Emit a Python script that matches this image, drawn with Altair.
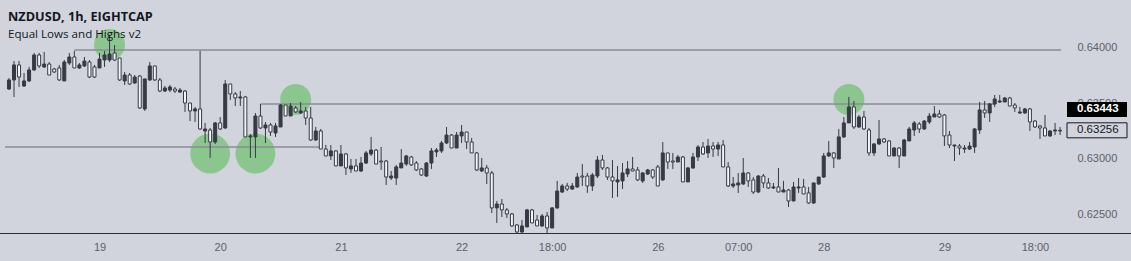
import altair as alt
import pandas as pd

# Hourly NZDUSD candles, prices in units of 1e-5 (e.g. 63625 -> 0.63625)
opens = [63625,63706,63840,63652,63697,63795,63929,63822,63848,63804,63813,63697,63857,63911,63813,63831,63866,63822,63813,63884,
         63884,63947,63902,63697,63750,63679,63741,63447,63706,63831,63706,63607,63616,63625,63598,63607,63500,63429,63447,63250,
         63259,63152,63322,63277,63670,63581,63545,63554,63197,63197,63384,63277,63304,63232,63286,63482,63384,63456,63411,63429,
         63366,63170,63250,63089,63027,63072,62938,63045,62911,62938,62893,62964,63045,63080,62982,62982,62830,62830,62920,62955,
         63018,62964,62911,62848,62964,63063,63072,63143,63214,63098,63206,63241,63152,63054,62893,62920,62875,62563,62598,62545,
         62509,62411,62348,62393,62545,62455,62402,62491,62384,62563,62705,62759,62732,62750,62848,62848,62759,62848,62991,62920,
         62839,62795,62804,62866,62911,62902,62804,62866,62902,62929,62813,63054,62982,62973,63018,62795,62920,63018,63107,63054,
         63116,63089,63125,62929,62759,62768,62777,62875,62813,62705,62848,62786,62741,62750,62705,62723,62625,62741,62750,62697,
         62607,62777,62839,63027,63054,63000,63197,63322,63465,63286,63375,63259,63054,63134,63179,63161,63027,63098,63027,63161,
         63259,63313,63268,63331,63375,63402,63393,63214,63116,63116,63089,63089,63107,63259,63438,63411,63491,63509,63509,63545,
         63482,63411,63411,63447,63339,63295,63277,63206,63250,63250]
highs = [63723,63875,63875,63768,63822,63947,63947,63956,63866,63813,63840,63884,63947,63965,63857,63911,63884,63840,63947,63965,
         64107,64018,63902,63777,63768,63750,63750,63715,63866,63831,63723,63652,63661,63643,63634,63616,63500,63465,63965,63322,
         63277,63331,63375,63706,63670,63598,63607,63563,63223,63411,63491,63331,63322,63322,63491,63482,63500,63473,63509,63465,
         63465,63286,63268,63125,63125,63080,63125,63054,63000,63000,63018,63072,63197,63089,63107,62991,62893,62947,63089,63036,
         63027,62982,62920,62973,63098,63098,63161,63286,63223,63241,63304,63241,63188,63063,63009,62947,62893,62625,62643,62563,
         62518,62420,62455,62554,62554,62500,62509,62527,62571,62804,62777,62786,62786,62875,62955,62875,62875,63027,63036,62929,
         62991,62938,62964,62982,63018,62929,62884,62911,62911,62947,63152,63054,63054,63036,63027,62929,63054,63125,63152,63179,
         63152,63152,63170,62973,62839,62875,63009,62884,62839,62857,62866,62830,62786,62920,62804,62732,62795,62830,62822,62750,
         62786,62839,63054,63161,63063,63268,63375,63554,63518,63393,63429,63277,63143,63348,63188,63170,63107,63107,63179,63286,
         63339,63331,63348,63411,63473,63438,63402,63250,63125,63134,63125,63152,63277,63509,63518,63500,63572,63572,63554,63554,
         63500,63465,63456,63456,63348,63304,63393,63259,63322,63286]
lows = [63616,63554,63643,63643,63688,63786,63813,63813,63750,63768,63697,63697,63840,63813,63804,63822,63723,63723,63813,63822,
        63866,63875,63697,63661,63661,63670,63447,63429,63697,63697,63598,63598,63598,63590,63590,63420,63339,63331,63259,63143,
        63009,63134,63259,63268,63527,63473,63473,63197,63009,63009,63268,63143,63206,63197,63286,63384,63384,63411,63402,63304,
        63161,63161,63089,63027,62991,62938,62938,62857,62875,62893,62884,62955,63027,62955,62902,62768,62813,62768,62920,62938,
        62938,62893,62848,62839,62911,63018,63054,63134,63098,63098,63143,63089,63054,62893,62884,62777,62518,62429,62482,62473,
        62393,62339,62339,62393,62429,62402,62393,62339,62384,62554,62697,62714,62723,62741,62759,62697,62714,62830,62902,62813,
        62652,62661,62732,62839,62893,62804,62786,62857,62822,62759,62804,62911,62911,62973,62795,62795,62911,62982,63036,63009,
        63018,63027,62929,62750,62741,62697,62768,62750,62688,62697,62741,62732,62732,62705,62705,62571,62625,62697,62688,62598,
        62598,62768,62830,63018,62920,63000,63188,63322,63268,63277,63259,63027,63027,63125,63143,63027,63027,62920,63027,63161,
        63206,63232,63259,63313,63375,63366,63116,63098,62982,63036,63054,63080,63054,63223,63366,63331,63465,63500,63509,63473,
        63420,63402,63402,63250,63277,63179,63206,63197,63214,63214]
closes = [63706,63840,63732,63697,63795,63929,63831,63848,63750,63777,63706,63866,63911,63813,63840,63875,63732,63732,63893,63929,
          63938,63884,63706,63750,63670,63732,63456,63715,63831,63706,63607,63634,63643,63607,63616,63500,63429,63447,63268,63268,
          63152,63322,63268,63670,63581,63545,63554,63197,63206,63384,63277,63304,63241,63295,63482,63384,63473,63420,63429,63366,
          63170,63250,63089,63027,63072,62938,63045,62920,62938,62893,62964,63054,63080,62955,62973,62839,62848,62929,62964,63027,
          62947,62902,62857,62964,63072,63080,63143,63214,63098,63214,63241,63152,63054,62902,62920,62875,62563,62598,62545,62509,
          62402,62348,62402,62545,62429,62402,62491,62384,62563,62714,62759,62732,62759,62839,62839,62759,62857,62991,62920,62839,
          62804,62813,62875,62911,62893,62813,62875,62902,62839,62759,63054,62973,62973,63018,62795,62920,63018,63107,63045,63116,
          63089,63125,62929,62759,62777,62786,62875,62804,62705,62848,62786,62741,62750,62705,62723,62625,62750,62750,62688,62607,
          62786,62839,63027,63054,63009,63197,63322,63465,63286,63375,63268,63054,63134,63179,63152,63027,63098,63027,63170,63268,
          63322,63268,63339,63384,63402,63375,63206,63125,63125,63098,63098,63116,63268,63438,63411,63491,63536,63518,63545,63473,
          63456,63420,63447,63331,63286,63277,63206,63250,63259,63256]

# x-axis tick labels at bar index positions
tick_bars = [18, 42, 66, 90, 108, 129, 145, 162, 186, 204]
tick_text = ["19", "20", "21", "22", "18:00", "26", "07:00", "28", "29", "18:00"]

# price-axis ticks
price_ticks = [0.625, 0.63, 0.635, 0.64]

# "Equal Lows and Highs" markers: bar index, price (1e-5), marker area
mark_bar_idx = [20, 40, 49, 57, 167]
mark_price = [64023, 63049, 63049, 63531, 63531]
mark_size = [962, 1590, 1590, 962, 962]

# horizontal levels: price (1e-5), start bar, end bar
level_price = [63973, 63491, 63107]
level_start = [13, 50, -0.79]
level_end = [209.18, 196, 61.8]

# right-side price tags
last_price = 0.63256
indicator_price = 0.63443

BG = "#d1d4dc"
DARK = "#363a45"
HOLLOW = "#f4f5f7"
LINE = "#8a8d96"
GREEN = "#8cc68f"

n = len(opens)
df = pd.DataFrame({
    "i": list(range(n)),
    "open": [v / 1e5 for v in opens],
    "high": [v / 1e5 for v in highs],
    "low": [v / 1e5 for v in lows],
    "close": [v / 1e5 for v in closes],
})
df["dir"] = ["up" if c >= o else "down" for o, c in zip(df["open"], df["close"])]

circ = pd.DataFrame({"i": mark_bar_idx, "p": [v / 1e5 for v in mark_price], "s": mark_size})
lev = pd.DataFrame({"p": [v / 1e5 for v in level_price], "a": level_start, "b": level_end})

xs = alt.Scale(domain=[-0.79, 209.18], nice=False, zero=False)
ys = alt.Scale(domain=[0.62339, 0.64420], nice=False, zero=False)

expr = "''"
for b, t in zip(reversed(tick_bars), reversed(tick_text)):
    expr = f"datum.value == {b} ? '{t}' : ({expr})"

x_axis = alt.Axis(values=tick_bars, labelExpr=expr, ticks=False, domain=False, grid=False,
                  labelPadding=8, labelFontSize=11, labelColor="#5d606b", title=None,
                  labelFont="Liberation Sans", labelOverlap=False, labelFlush=False)
y_axis = alt.Axis(orient="right", values=price_ticks, format=".5f", ticks=False, domain=False,
                  grid=False, labelPadding=11, labelFontSize=11, labelColor="#5d606b", title=None,
                  labelFont="Liberation Sans")

circles = alt.Chart(circ).mark_circle(color=GREEN, opacity=1).encode(
    x=alt.X("i:Q", scale=xs, axis=x_axis),
    y=alt.Y("p:Q", scale=ys, axis=y_axis),
    size=alt.Size("s:Q", scale=None, legend=None),
)

levels = alt.Chart(lev).mark_rule(color=LINE, strokeWidth=1.5).encode(
    x=alt.X("a:Q", scale=xs), x2="b:Q", y=alt.Y("p:Q", scale=ys)
)

wicks = alt.Chart(df).mark_rule(color=DARK, strokeWidth=1).encode(
    x=alt.X("i:Q", scale=xs), y=alt.Y("low:Q", scale=ys), y2="high:Q"
)

bodies = alt.Chart(df).mark_bar(size=3, stroke=DARK, strokeWidth=1).encode(
    x=alt.X("i:Q", scale=xs),
    y=alt.Y("open:Q", scale=ys), y2="close:Q",
    fill=alt.Fill("dir:N", scale=alt.Scale(domain=["up", "down"], range=[DARK, HOLLOW]), legend=None),
)

base_line = alt.Chart(pd.DataFrame({"k": [0]})).mark_rule(color="#2a2e39", strokeWidth=1).encode(
    x=alt.value(0), x2=alt.value(1131), y=alt.value(233.5)
)

title1 = alt.Chart(pd.DataFrame({"t": ["NZDUSD, 1h, EIGHTCAP"]})).mark_text(
    align="left", baseline="alphabetic", fontSize=12.7, fontWeight="bold", font="Open Sans", color="#131722"
).encode(x=alt.value(8), y=alt.value(21), text="t:N")

title2 = alt.Chart(pd.DataFrame({"t": ["Equal Lows and Highs v2"]})).mark_text(
    align="left", baseline="alphabetic", fontSize=11.6, font="Open Sans", color="#131722"
).encode(x=alt.value(8), y=alt.value(37.5), text="t:N")

tags = pd.DataFrame({"p": [indicator_price, last_price], "kind": ["ind", "last"]})
tag_ind = alt.Chart(tags[tags.kind == "ind"]).mark_tick(
    thickness=15, size=60, color="#000000", opacity=1
).encode(x=alt.value(1097), y=alt.Y("p:Q", scale=ys))
tag_last = alt.Chart(tags[tags.kind == "last"]).mark_tick(
    thickness=15, size=60, color=BG, stroke="#131722", strokeWidth=1, opacity=1
).encode(x=alt.value(1097), y=alt.Y("p:Q", scale=ys))
tag_ind_txt = alt.Chart(tags[tags.kind == "ind"]).mark_text(
    align="left", baseline="middle", fontSize=11.5, fontWeight="bold", font="Liberation Sans", color="#ffffff"
).encode(x=alt.value(1077), y=alt.Y("p:Q", scale=ys), text=alt.Text("p:Q", format=".5f"))
tag_last_txt = alt.Chart(tags[tags.kind == "last"]).mark_text(
    align="left", baseline="middle", fontSize=11.5, font="Liberation Sans", color="#131722"
).encode(x=alt.value(1077), y=alt.Y("p:Q", scale=ys), text=alt.Text("p:Q", format=".5f"))

chart = alt.layer(
    circles, levels, wicks, bodies, base_line, title1, title2,
    tag_ind, tag_last, tag_ind_txt, tag_last_txt
).properties(
    width=1066, height=233,
    background=BG,
    padding={"left": 0, "top": 0, "right": 65, "bottom": 28},
    autosize=alt.AutoSizeParams(type="none"),
).configure_view(stroke=None)

chart.save("out.html", embed_options={"renderer": "svg", "actions": False})
